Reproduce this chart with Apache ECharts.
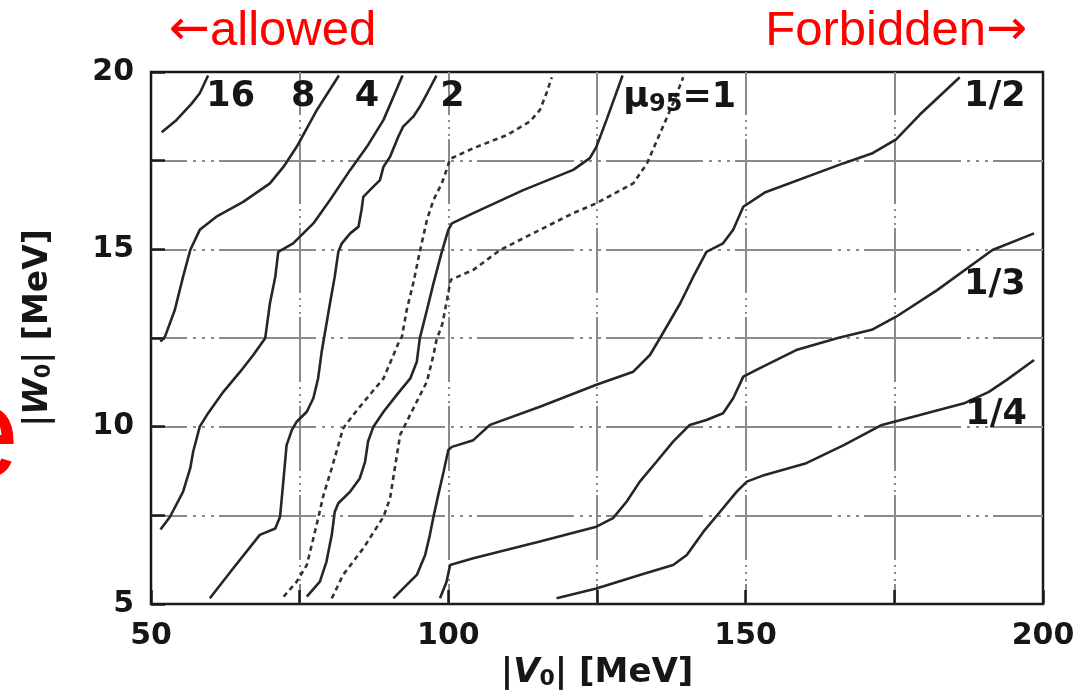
<!DOCTYPE html>
<html>
<head>
<meta charset="utf-8">
<script src="https://cdn.jsdelivr.net/npm/echarts@6/dist/echarts.min.js"></script>
<style>
html,body{margin:0;padding:0;background:#ffffff;}
#chart{width:1082px;height:699px;}
</style>
</head>
<body>
<div id="chart"></div>
<script>
// ---- axis ticks ----
const xMin = 50, xMax = 200, xStep = 25, xLabelEvery = 50;
const yMin = 5, yMax = 20, yStep = 2.5, yLabelEvery = 5;

// ---- contour curves [|V0|, |W0|] ----
const c16 = [[51.8,18.3],[54.3,18.65],[56.8,19.1],[58.2,19.4],[59.6,19.9]];
const c8 = [[51.6,12.4],[52.35,12.54],[54.0,13.29],[55.4,14.23],[56.6,14.98],[58.2,15.55],[61.0,15.92],[65.5,16.34],[70.0,16.86],[72.3,17.33],[74.5,17.89],[77.9,18.93],[81.6,19.9]];
const c4 = [[51.6,7.1],[53.2,7.46],[55.4,8.17],[56.6,8.83],[57.1,9.3],[58.2,10.0],[59.6,10.38],[62.2,10.99],[65.0,11.55],[67.2,12.02],[69.2,12.49],[70.0,13.48],[70.9,14.23],[71.4,14.93],[73.9,15.17],[77.3,15.73],[80.1,16.39],[83.5,17.24],[86.3,17.89],[89.1,18.65],[92.3,19.9]];
const c2 = [[59.9,5.16],[63.8,6.0],[68.3,6.95],[70.9,7.13],[71.7,7.46],[72.3,8.54],[72.8,9.48],[73.7,9.91],[74.5,10.14],[76.2,10.42],[77.3,10.8],[78.1,11.36],[78.7,12.11],[79.2,12.6],[80.1,13.48],[80.9,14.23],[81.5,14.93],[82.1,15.17],[83.5,15.45],[84.9,15.64],[85.4,16.11],[85.7,16.48],[87.1,16.72],[88.5,16.95],[89.1,17.33],[90.2,17.61],[91.6,18.18],[92.4,18.46],[94.1,18.74],[95.2,19.02],[96.6,19.45],[98.0,19.9]];
const c1 = [[76.2,5.21],[78.4,5.63],[79.5,6.19],[80.4,6.95],[80.9,7.6],[81.5,7.84],[83.5,8.17],[85.1,8.54],[86.0,9.01],[86.5,9.58],[87.4,10.0],[89.1,10.42],[91.3,10.89],[93.6,11.36],[94.7,11.83],[95.2,12.49],[96.4,13.29],[97.5,14.04],[98.9,14.93],[100.0,15.55],[100.6,15.73],[104.2,16.02],[112.6,16.67],[121.0,17.24],[123.8,17.57],[124.9,17.89],[126.6,18.65],[129.3,19.9]];
const cHalf = [[90.75,5.16],[93.0,5.54],[94.7,5.82],[96.1,6.38],[96.9,6.95],[97.5,7.46],[98.3,8.07],[99.2,8.73],[100.0,9.34],[100.6,9.43],[104.2,9.62],[107.0,10.05],[115.4,10.56],[124.9,11.18],[131.1,11.55],[133.9,12.02],[135.9,12.585],[139.0,13.48],[141.2,14.23],[143.4,14.93],[146.2,15.17],[147.9,15.55],[149.6,16.2],[153.2,16.6],[166.5,17.43],[171.2,17.7],[175.3,18.1],[179.3,18.8],[186.0,19.85]];
const cThird = [[98.6,5.16],[99.7,5.63],[100.3,6.1],[104.2,6.29],[115.4,6.76],[124.9,7.18],[127.7,7.42],[130.0,7.89],[132.2,8.45],[135.0,9.01],[137.8,9.58],[140.6,10.05],[143.4,10.19],[146.2,10.38],[147.9,10.8],[149.6,11.41],[152.4,11.65],[158.5,12.16],[165.5,12.5],[171.2,12.73],[175.3,13.1],[182.2,13.85],[191.5,14.98],[198.5,15.45]];
const cQuarter = [[118.2,5.16],[124.9,5.44],[132.2,5.82],[137.8,6.1],[140.1,6.38],[142.9,7.04],[145.7,7.6],[148.5,8.17],[150.2,8.45],[153.2,8.64],[160.2,8.97],[166.5,9.48],[172.9,10.05],[179.3,10.33],[186.9,10.67],[190.9,10.98],[193.9,11.32],[198.5,11.88]];
const dotA = [[72.3,5.21],[74.5,5.63],[76.2,6.1],[77.3,6.85],[78.1,7.41],[79.0,8.07],[80.4,8.83],[81.5,9.48],[82.3,9.95],[84.0,10.33],[86.3,10.8],[89.1,11.36],[91.6,12.35],[92.2,12.54],[93.0,13.29],[94.1,14.04],[95.2,14.93],[96.4,15.83],[97.5,16.39],[98.9,16.86],[99.7,17.24],[100.3,17.55],[104.2,17.85],[109.8,18.22],[113.7,18.6],[115.4,18.93],[116.5,19.4],[117.4,19.85]];
const dotB = [[80.4,5.16],[82.3,5.82],[85.7,6.57],[89.1,7.46],[90.2,7.98],[91.0,8.83],[91.9,9.77],[93.0,10.14],[94.7,10.71],[96.4,11.27],[97.5,12.02],[98.0,12.44],[99.0,12.9],[99.8,13.6],[100.4,14.14],[104.2,14.42],[108.7,14.98],[115.4,15.55],[121.0,16.02],[124.9,16.3],[131.1,16.86],[133.4,17.42],[135.6,18.27],[137.8,19.12],[139.5,19.85]];

// ---- in-plot contour labels ----
const labelTexts = ['16','8','4','2','mu','1/2','1/3','1/4'];
const labelV = [63.4, 75.6, 86.3, 100.7, 138.9, 191.9, 191.9, 192.1];
const labelW = [19.31, 19.31, 19.31, 19.31, 19.28, 19.31, 14.0, 10.33];

const solidCurves = [c16, c8, c4, c2, c1, cHalf, cThird, cQuarter];
const dottedCurves = [dotA, dotB];

const TXT = '#161616';
const FONT = 'DejaVu Sans';
const LINE = '#262626';
const GRID = '#8a8a8a';

const chart = echarts.init(document.getElementById('chart'), null, {renderer: 'canvas'});

const series = [];
solidCurves.forEach((d, i) => series.push({
  type: 'line', name: 's' + i, data: d, symbol: 'none', showSymbol: false,
  lineStyle: {color: LINE, width: 2.6}, silent: true, z: 3, clip: true
}));
dottedCurves.forEach((d, i) => series.push({
  type: 'line', name: 'd' + i, data: d, symbol: 'none', showSymbol: false,
  lineStyle: {color: '#333', width: 2.6, type: [5, 4]}, silent: true, z: 3, clip: true
}));
series.push({
  type: 'scatter', name: 'labels', symbolSize: 0, silent: true, z: 5,
  itemStyle: {opacity: 1},
  data: labelTexts.map((t, i) => ({value: [labelV[i], labelW[i]], name: t})),
  label: {
    show: true, position: 'inside', opacity: 1,
    formatter: p => p.name === 'mu' ? '{m|μ}{s|95}{m|=1}' : '{m|' + p.name + '}',
    fontFamily: FONT, fontWeight: 'bold', fontSize: 35, color: TXT,
    textBorderWidth: 0, textBorderColor: 'transparent',
    rich: {
      m: {fontFamily: FONT, fontWeight: 'bold', fontSize: 35, color: TXT, textBorderWidth: 0},
      s: {fontFamily: FONT, fontWeight: 'bold', fontSize: 24, color: TXT, textBorderWidth: 0, padding: [14, 0, 0, 0]}
    }
  },
  emphasis: {disabled: true}
});

const tickStyle = {show: true, inside: true, length: 14, lineStyle: {color: '#1a1a1a', width: 2.5}};

chart.setOption({
  animation: false,
  backgroundColor: '#ffffff',
  grid: {left: 151, top: 72, right: 39, bottom: 95, show: true, borderColor: '#1a1a1a', borderWidth: 2.5,
         backgroundColor: 'transparent', containLabel: false, outerBoundsMode: 'none'},
  xAxis: {
    type: 'value', min: xMin, max: xMax, interval: xStep,
    axisLine: {show: false}, axisTick: tickStyle,
    axisLabel: {margin: 17, fontFamily: FONT, fontWeight: 'bold', fontSize: 30, color: TXT,
      formatter: v => (v % xLabelEvery === 0 ? String(v) : '')},
    splitLine: {show: true, showMinLine: false, showMaxLine: false,
      lineStyle: {color: GRID, width: 2, type: [65, 5, 2, 5, 2, 5, 2, 3], dashOffset: 22}},
    name: '|{i|V}{s|0}| [MeV]', nameLocation: 'middle', nameGap: 52,
    nameTextStyle: {fontFamily: FONT, fontWeight: 'bold', fontSize: 34, color: TXT,
      rich: {
        i: {fontFamily: FONT, fontWeight: 'bold', fontStyle: 'italic', fontSize: 34, color: TXT},
        s: {fontFamily: FONT, fontWeight: 'bold', fontSize: 22, color: TXT, padding: [12, 0, 0, 0]}
      }}
  },
  yAxis: {
    type: 'value', min: yMin, max: yMax, interval: yStep,
    axisLine: {show: false}, axisTick: tickStyle,
    axisLabel: {margin: 17, fontFamily: FONT, fontWeight: 'bold', fontSize: 30, color: TXT,
      formatter: v => (Math.abs(v % yLabelEvery) < 1e-9 ? String(v) : '')},
    splitLine: {show: true, showMinLine: false, showMaxLine: false,
      lineStyle: {color: GRID, width: 2, type: [97, 6, 3, 6, 3, 6, 3, 5], dashOffset: 61}},
    name: '|{i|W}{s|0}| [MeV]', nameLocation: 'middle', nameGap: 96, nameRotate: 90,
    nameTextStyle: {fontFamily: FONT, fontWeight: 'bold', fontSize: 33, color: TXT, padding: [0, 0, 0, 20],
      rich: {
        i: {fontFamily: FONT, fontWeight: 'bold', fontStyle: 'italic', fontSize: 33, color: TXT},
        s: {fontFamily: FONT, fontWeight: 'bold', fontSize: 21, color: TXT, padding: [12, 0, 0, 0]}
      }}
  },
  graphic: [
    {type: 'text', x: 169, y: 31, z: 10, silent: true,
     style: {text: '{a|←}allowed', fill: '#ff0000', font: '49px "Liberation Sans"', align: 'left', verticalAlign: 'middle',
       rich: {a: {font: '49px "DejaVu Sans"', fill: '#ff0000'}}}},
    {type: 'text', x: 1027, y: 31, z: 10, silent: true,
     style: {text: 'Forbidden{a|→}', fill: '#ff0000', font: '49px "Liberation Sans"', align: 'right', verticalAlign: 'middle',
       rich: {a: {font: '49px "DejaVu Sans"', fill: '#ff0000'}}}},
    {type: 'text', x: -54, y: 441, z: 10, silent: true,
     style: {text: 'e', fill: '#ff0000', font: '132px "Liberation Sans"', align: 'left', verticalAlign: 'middle'}}
  ],
  series: series
});
</script>
</body>
</html>
